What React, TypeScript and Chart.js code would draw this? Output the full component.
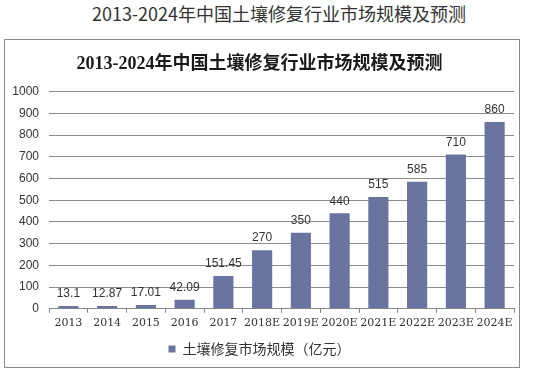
import React, { useEffect, useRef } from "react";
import { Chart, registerables } from "chart.js";

Chart.register(...registerables);

const categories = ["2013", "2014", "2015", "2016", "2017", "2018E", "2019E", "2020E", "2021E", "2022E", "2023E", "2024E"];
const marketSize = [13.1, 12.87, 17.01, 42.09, 151.45, 270, 350, 440, 515, 585, 710, 860];
const valueLabels = ["13.1", "12.87", "17.01", "42.09", "151.45", "270", "350", "440", "515", "585", "710", "860"];
const seriesName = "土壤修复市场规模（亿元）";
const titleText = "2013-2024年中国土壤修复行业市场规模及预测";

const barColor = "#6a74a0";

const valueLabelPlugin = {
  id: "valueLabels",
  afterDatasetsDraw(chart: any) {
    const ctx = chart.ctx;
    const meta = chart.getDatasetMeta(0);
    ctx.save();
    ctx.font = "12px 'Liberation Sans', Arial, sans-serif";
    ctx.fillStyle = "#333";
    ctx.textAlign = "center";
    ctx.textBaseline = "bottom";
    meta.data.forEach((bar: any, i: number) => {
      ctx.fillText(valueLabels[i], bar.x, bar.y - 6);
    });
    ctx.restore();
  },
};

export default function App() {
  const ref = useRef<HTMLCanvasElement | null>(null);
  useEffect(() => {
    document.body.style.margin = "0";
    const chart = new Chart(ref.current!, {
      type: "bar",
      data: {
        labels: categories,
        datasets: [
          {
            label: seriesName,
            data: marketSize,
            backgroundColor: barColor,
            barPercentage: 0.52,
            categoryPercentage: 1,
          },
        ],
      },
      options: {
        animation: false,
        responsive: false,
        maintainAspectRatio: false,
        layout: { padding: { left: 0, right: 5, top: 6, bottom: 1 } },
        plugins: {
          title: {
            display: true,
            text: titleText,
            color: "#1a1a1a",
            font: { family: "'Liberation Serif', 'Noto Sans CJK SC', serif", size: 18, weight: "bold" },
            padding: { top: 8, bottom: 16 },
          },
          legend: {
            display: true,
            position: "bottom",
            labels: {
              color: "#333",
              font: { family: "'Noto Sans CJK SC', sans-serif", size: 14 },
              boxWidth: 7,
              boxHeight: 7,
              padding: 8,
            },
          },
          tooltip: { enabled: false },
        },
        scales: {
          x: {
            grid: { display: true, drawOnChartArea: false, drawTicks: true, tickLength: 4, color: "#888" },
            border: { display: true, color: "#888" },
            ticks: {
              color: "#333",
              font: { family: "'DejaVu Serif', 'Liberation Serif', serif", size: 11 },
              maxRotation: 0,
              autoSkip: false,
              padding: 4,
            },
          },
          y: {
            min: 0,
            max: 1000,
            ticks: {
              stepSize: 100,
              color: "#333",
              font: { family: "'Liberation Sans', Arial, sans-serif", size: 12 },
              padding: 10,
              callback: (v: any) => String(v),
            },
            grid: { color: "#8c8c8c", drawTicks: false },
            border: { display: false },
            afterFit(scale: any) {
              scale.width = 44;
            },
          },
        },
      },
      plugins: [valueLabelPlugin],
    });
    return () => chart.destroy();
  }, []);

  return (
    <div style={{ position: "relative", width: 533, height: 371, background: "#fff" }}>
      <div
        style={{
          position: "absolute",
          left: 0,
          top: 1,
          width: 558,
          textAlign: "center",
          fontFamily: "'Noto Sans CJK SC', sans-serif",
          fontSize: 18,
          color: "#333",
          lineHeight: "24px",
        }}
      >
        {titleText}
      </div>
      <div
        style={{
          position: "absolute",
          left: 4,
          top: 39,
          width: 514,
          height: 327,
          border: "1px solid #8a8a8a",
        }}
      >
        <canvas ref={ref} width={514} height={327} style={{ display: "block" }} />
      </div>
    </div>
  );
}
